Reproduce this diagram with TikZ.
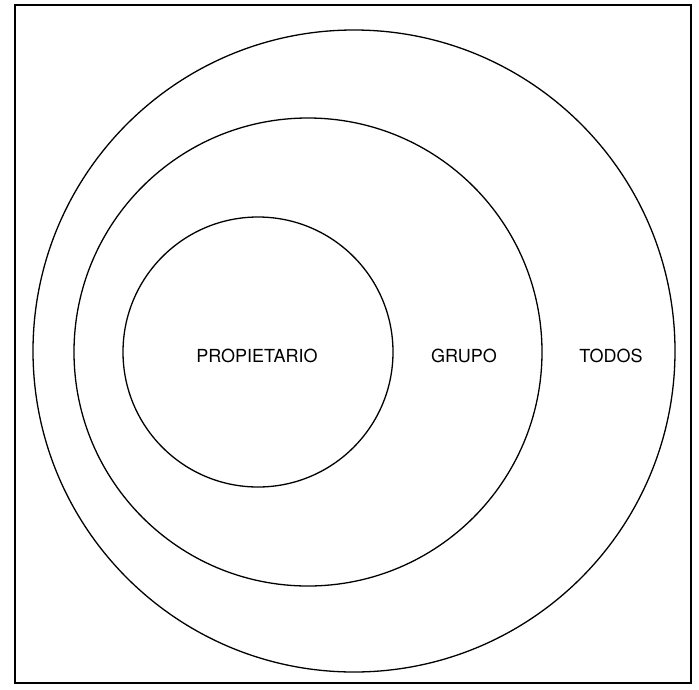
\documentclass[tikz,border=0pt]{standalone}
\usepackage{fontspec}
\setmainfont{TeX Gyre Heros}
\usetikzlibrary{positioning}

\begin{document}
\begin{tikzpicture}[
    x=1pt, y=-1pt,
    every node/.style={font=\fontsize{18}{21}\selectfont, inner sep=0pt},
    ring/.style={draw, line width=1.3pt},
    frame/.style={draw, line width=1.8pt}
]
\useasboundingbox (0,0) rectangle (699,689);
\draw[frame] (15,5) rectangle (691,683);

\coordinate (outerc) at (354,351);
\coordinate (midc) at (308,352);
\coordinate (innerc) at (258,352);
\draw[ring] (outerc) circle[radius=321];
\draw[ring] (midc) circle[radius=234];
\draw[ring] (innerc) circle[radius=135];

\node (owner) at (257,356) {PROPIETARIO};
\node (group) at (464,356) {GRUPO};
\node (all) at (611,356) {TODOS};
\end{tikzpicture}
\end{document}
